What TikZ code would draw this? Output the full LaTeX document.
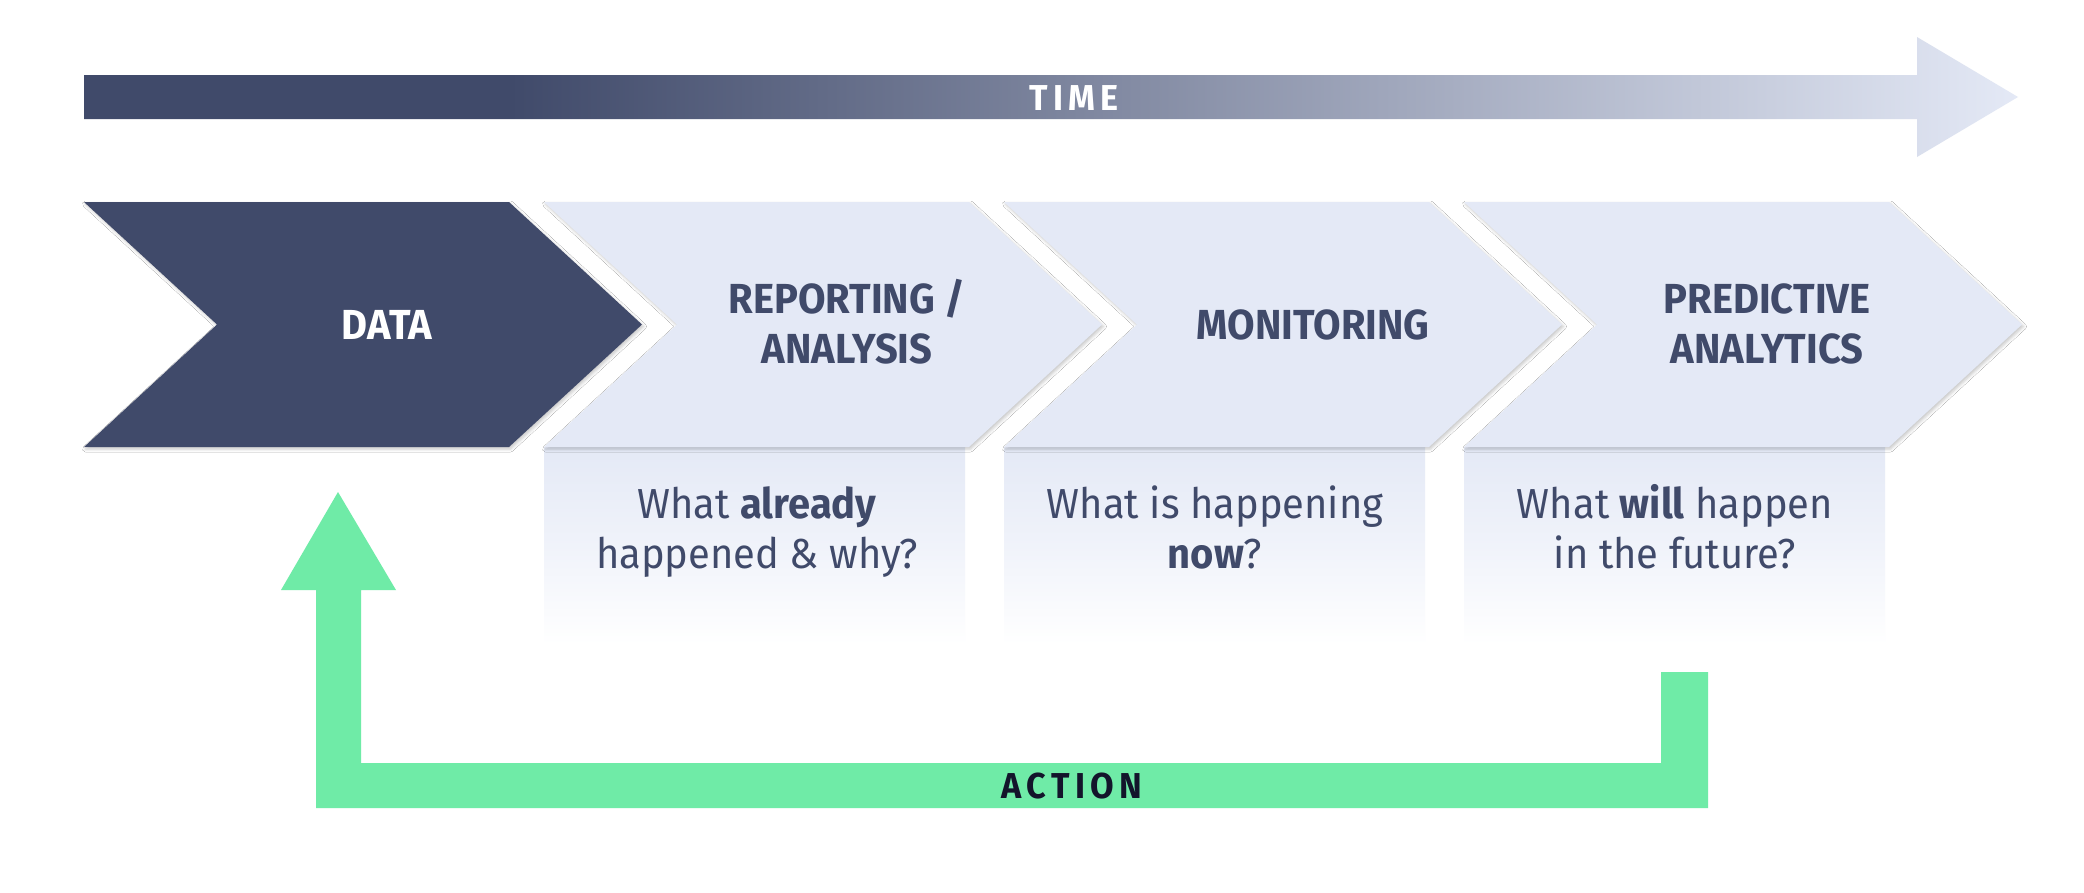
\documentclass[tikz,border=0pt]{standalone}
\usepackage{fontspec}
\setmainfont{Fira Sans}[FakeStretch=0.95]
\usetikzlibrary{shadows.blur}
\definecolor{navy}{HTML}{404A6A}
\definecolor{lightc}{HTML}{E4E9F6}
\definecolor{greenc}{HTML}{6FEBA7}
\definecolor{actionc}{HTML}{13152B}
\pgfdeclarehorizontalshading{timeshade}{100bp}{color(0bp)=(navy); color(36bp)=(navy); color(75bp)=(lightc); color(100bp)=(lightc)}
\tikzset{
  chev/.style={blur shadow={shadow xshift=1.5pt, shadow yshift=-2pt, shadow blur radius=3pt, shadow opacity=22}},
  headtxt/.style={anchor=base, inner sep=0pt, text=navy, font=\fontsize{42}{50}\selectfont\bfseries},
  qtxt/.style={anchor=base, inner sep=0pt, text=navy, font=\fontsize{42}{50}\selectfont},
  bandtxt/.style={anchor=base, inner sep=0pt, font=\fontsize{36}{40}\selectfont\bfseries\addfontfeatures{LetterSpace=15}},
}
\begin{document}
\begin{tikzpicture}[x=1pt,y=-1pt]
\useasboundingbox (0,0) rectangle (2084,892);
\fill[white] (0,0) rectangle (2084,892);
% time arrow
\shade[shading=timeshade] (84,75) -- (1917,75) -- (1917,37) -- (2018,97) -- (1917,157) -- (1917,119) -- (84,119) -- cycle;
\node[bandtxt, text=white] (time) at (1074,110) {TIME};
% lower boxes
\foreach \L in {544,1004,1464}{
  \shade[top color=lightc, bottom color=white, middle color=lightc!55!white] (\L,447) rectangle ++(421,198);
}
% chevrons
\foreach \L/\c in {84/navy,544/lightc,1004/lightc,1464/lightc}{
  \fill[\c, chev] (\L,202) -- ++(425,0) -- ++(133,122.5) -- ++(-133,122.5) -- ++(-425,0) -- ++(133,-122.5) -- cycle;
}
% headings
\node[headtxt, text=white] (data) at (387,339) {DATA};
\node[headtxt] (rep1) at (847,313) {REPORTING /};
\node[headtxt] (rep2) at (847,363) {ANALYSIS};
\node[headtxt] (mon) at (1313,339) {MONITORING};
\node[headtxt] (pre1) at (1767,313) {PREDICTIVE};
\node[headtxt] (pre2) at (1767,363) {ANALYTICS};
% questions
\node[qtxt] (q1a) at (757,518) {What \textbf{already}};
\node[qtxt] (q1b) at (757,568) {happened \& why?};
\node[qtxt] (q2a) at (1215,518) {What is happening};
\node[qtxt] (q2b) at (1215,568) {\textbf{now}?};
\node[qtxt] (q3a) at (1675,518) {What \textbf{will} happen};
\node[qtxt] (q3b) at (1675,568) {in the future?};
% action arrow
\fill[greenc] (1661,672) -- (1708,672) -- (1708,808) -- (316,808) -- (316,590) -- (281,590) -- (338,492) -- (396,590) -- (361,590) -- (361,763) -- (1661,763) -- cycle;
\node[bandtxt, text=actionc] (action) at (1072,798) {ACTION};
\end{tikzpicture}
\end{document}
